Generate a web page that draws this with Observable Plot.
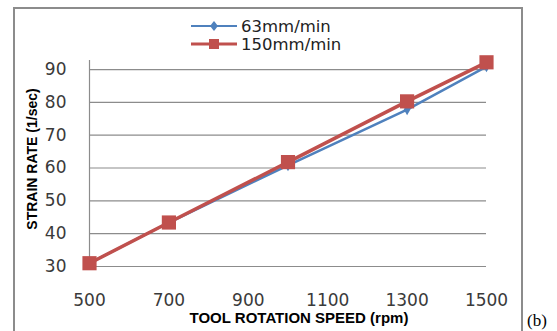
<!DOCTYPE html>
<html><head><meta charset="utf-8">
<script src="https://cdn.jsdelivr.net/npm/d3@7"></script>
<script src="https://cdn.jsdelivr.net/npm/@observablehq/plot@0.6"></script>
<style>
html,body{margin:0;padding:0;background:#fff;}
#wrap{position:relative;width:557px;height:331px;overflow:hidden;}
#frame{position:absolute;left:13px;top:7px;width:510px;height:340px;border:2px solid #8c8c8c;box-sizing:border-box;}
#legend{position:absolute;left:190px;top:17px;font-family:"DejaVu Sans",sans-serif;font-size:16.5px;color:#222;}
.li{display:flex;align-items:center;height:18px;}
.li svg{margin-right:3px;}
#tag{position:absolute;left:527px;top:311px;font-family:"Liberation Serif",serif;font-size:17px;color:#000;}
#chart{position:absolute;left:0;top:0;}
</style></head>
<body>
<div id="wrap"><div id="frame"></div><div id="chart"></div><div id="legend"></div><div id="tag">(b)</div></div>
<script>
const speeds = [500, 700, 1000, 1300, 1500];
const rate63 = [31, 43.4, 60.8, 77.8, 90.9];
const rate150 = [31, 43.4, 61.8, 80.3, 92.2];
const seriesNames = ["63mm/min", "150mm/min"];
const xTicks = [500, 700, 900, 1100, 1300, 1500];
const yTicks = [30, 40, 50, 60, 70, 80, 90];
const colors = ["#4F81BD", "#C0504D"];

const d63 = speeds.map((s, i) => ({speed: s, rate: rate63[i]}));
const d150 = speeds.map((s, i) => ({speed: s, rate: rate150[i]}));

const plot = Plot.plot({
  width: 557, height: 331,
  marginLeft: 89, marginRight: 71, marginTop: 60, marginBottom: 65,
  style: {fontFamily: "DejaVu Sans, sans-serif", fontSize: "17px", color: "#3a3a3a", background: "transparent"},
  x: {domain: [500, 1500]},
  y: {domain: [30, 92.75]},
  marks: [
    Plot.ruleY(yTicks, {stroke: "#8c8c8c", strokeWidth: 1.2}),
    Plot.ruleX([500], {stroke: "#8c8c8c", strokeWidth: 1.2}),
    Plot.axisX(xTicks, {tickSize: 0, tickPadding: 27, fontSize: 17, tickFormat: d => String(d), label: null}),
    Plot.axisY(yTicks, {tickSize: 0, tickPadding: 23, fontSize: 17, tickFormat: d => String(d), label: null}),
    Plot.line(d63, {x: "speed", y: "rate", stroke: colors[0], strokeWidth: 2.5}),
    Plot.dot(d63, {x: "speed", y: "rate", symbol: "diamond", r: 3.5, fill: colors[0]}),
    Plot.line(d150, {x: "speed", y: "rate", stroke: colors[1], strokeWidth: 3.5}),
    Plot.dot(d150, {x: "speed", y: "rate", symbol: "square", r: 8, fill: colors[1]}),
    Plot.text(["TOOL ROTATION SPEED (rpm)"], {frameAnchor: "bottom", dy: 56, dx: 11, fontWeight: "bold", fontSize: 15, fill: "#000", fontFamily: "Liberation Sans"}),
    Plot.text(["STRAIN RATE (1/sec)"], {frameAnchor: "left", textAnchor: "middle", dx: -57, dy: -4.5, rotate: -90, fontWeight: "bold", fontSize: 14, fill: "#000", fontFamily: "Liberation Sans"})
  ]
});
document.getElementById("chart").appendChild(plot);

const leg = document.getElementById("legend");
seriesNames.forEach((name, i) => {
  const row = document.createElement("div");
  row.className = "li";
  const sym = i === 0
    ? `<polygon points="24,4 28,9 24,14 20,9" fill="${colors[0]}"/>`
    : `<rect x="19" y="4" width="10" height="10" fill="${colors[1]}"/>`;
  row.innerHTML = `<svg width="48" height="18"><line x1="1" x2="47" y1="9" y2="9" stroke="${colors[i]}" stroke-width="${i===0?2:3}"/>${sym}</svg><span>${name}</span>`;
  leg.appendChild(row);
});
</script>
</body></html>
